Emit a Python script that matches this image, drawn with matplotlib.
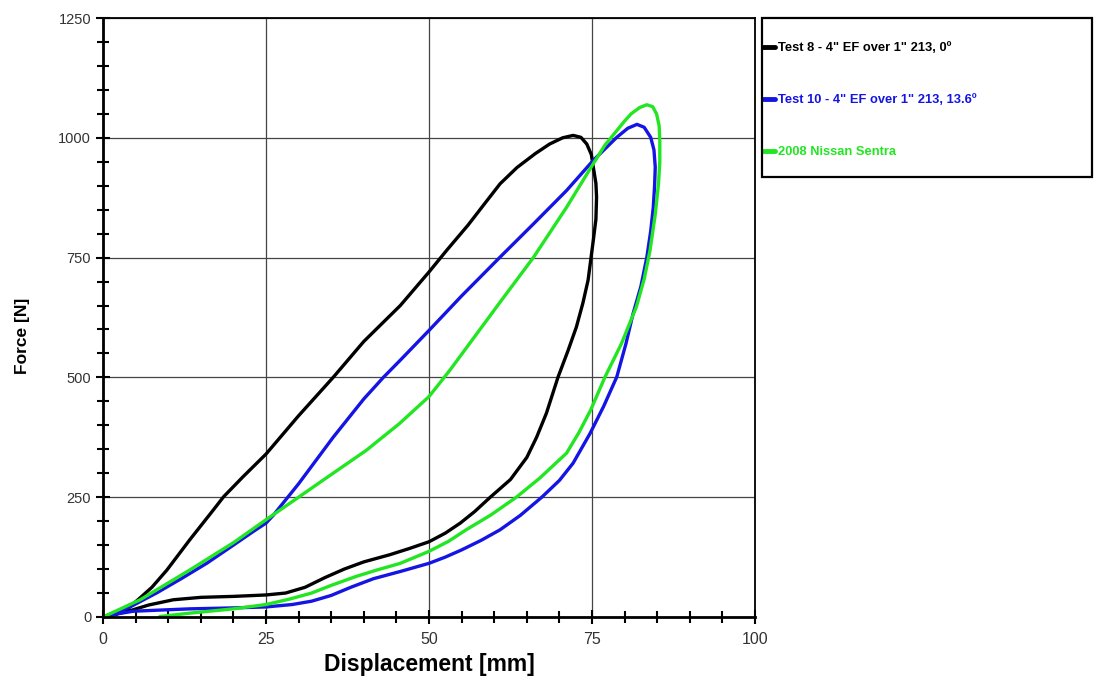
import matplotlib.pyplot as plt
from matplotlib.patches import Rectangle
from matplotlib.ticker import MultipleLocator

plt.rcParams['font.family'] = ['Liberation Sans', 'DejaVu Sans']

# Test 8 - loading branch up to peak, then unloading back to origin
test8_x = [0, 2, 4, 5.7, 7.5, 9.8, 13.3, 16.9, 18.5, 21.5, 25, 30, 35.3, 40, 45.6,
           50, 52.7, 56, 58.5, 60.9, 63.5, 66.3, 68.5, 70.5, 72.1, 73.3, 74.2,
           74.9, 75.2, 75.6, 75.7, 75.6, 75.2, 74.4, 73.6, 72.6, 71.3, 69.8, 68,
           66.5, 65, 62.5, 59.4, 57, 54.8, 52.5, 50, 47, 44, 40, 37, 34, 31, 28,
           25, 20, 15, 10.8, 7, 4.6, 2, 0]
test8_y = [0, 6, 20, 40, 62, 98, 161, 223, 251, 293, 340, 420, 500, 575, 650,
           720, 765, 818, 862, 904, 938, 967, 987, 1000, 1005, 1001, 987,
           965, 939, 905, 876, 830, 786, 703, 655, 605, 555, 501, 425,
           375, 333, 287, 250, 220, 196, 175, 157, 143, 130, 115, 100, 82, 62, 50,
           46, 43, 41, 36, 25, 15, 6, 0]

# Test 10
test10_x = [0, 4, 8.2, 12, 15.9, 20, 23, 25, 26.1, 30, 35.3, 40, 43, 45.6, 50, 55,
            60.9, 66, 71.1, 75.2, 78.8, 80.5, 81.9, 83, 84, 84.5, 84.7, 84.6, 84.4,
            84, 83.4, 82.5, 81.3, 80.2, 78.8, 76.8, 74.7, 72.1, 70, 67.3, 64, 60.9,
            58, 55, 52.5, 50, 45.6, 41.5, 38, 35, 32, 29, 25, 20, 13.3, 8, 4.6, 2, 0]
test10_y = [0, 20, 50, 80, 112, 150, 178, 196, 212, 278, 375, 455, 500, 536, 598, 670,
            751, 820, 890, 953, 1001, 1020, 1028, 1022, 1001, 975, 939, 900, 855,
            805, 750, 690, 633, 570, 501, 440, 383, 321, 285, 250, 212, 182,
            160, 140, 125, 112, 95, 80, 62, 45, 33, 26, 21, 19, 17, 14, 12, 6, 0]

# 2008 Nissan Sentra
sentra_x = [0, 5.7, 13.3, 20, 25, 30, 33.8, 37, 40.4, 45.5, 50, 53.2, 57, 60.9, 66,
            71.1, 75.2, 77, 78.8, 80, 81, 82.3, 83.4, 84.3, 84.9, 85.3, 85.4, 85.4,
            85.2, 84.7, 83.9, 83, 81.8, 79.5, 77, 74.8, 73, 71.1, 67, 63.4, 59.5,
            55.7, 53, 50, 45.6, 42, 38.9, 35, 32, 28.5, 25, 20, 13.3, 8.7]
sentra_y = [0, 36, 98, 155, 203, 250, 286, 316, 348, 404, 460, 515, 585, 657, 750,
            855, 946, 985, 1015, 1035, 1050, 1063, 1069, 1065, 1050, 1025, 994, 950,
            904, 840, 765, 705, 647, 570, 501, 432, 385, 342, 290, 250, 213,
            182, 158, 137, 112, 98, 85, 66, 50, 37, 26, 17, 8, 1]

series = [
    (test8_x, test8_y, 'black', 'Test 8 - 4" EF over 1" 213, 0º'),
    (test10_x, test10_y, '#1414e4', 'Test 10 - 4" EF over 1" 213, 13.6º'),
    (sentra_x, sentra_y, '#22e622', '2008 Nissan Sentra'),
]

fig = plt.figure(figsize=(10.94, 6.79), dpi=100)
ax = fig.add_axes([103 / 1094, 1 - 617 / 679, 652 / 1094, 599 / 679])

for xs, ys, col, lab in series:
    ax.plot(xs, ys, color=col, linewidth=2.4, label=lab,
            solid_capstyle='round', solid_joinstyle='round')

ax.set_xlim(0, 100)
ax.set_ylim(0, 1250)
ax.xaxis.set_major_locator(MultipleLocator(25))
ax.xaxis.set_minor_locator(MultipleLocator(5))
ax.yaxis.set_major_locator(MultipleLocator(250))
ax.yaxis.set_minor_locator(MultipleLocator(50))
ax.grid(True, which='major', color='#444444', linewidth=0.9)
ax.tick_params(which='major', direction='inout', length=10, width=1.5,
               labelsize=10.5, labelcolor='#333333')
ax.tick_params(axis='x', which='major', labelsize=11.5, pad=6)
ax.tick_params(which='minor', direction='inout', length=8, width=1.5)
for side in ['left', 'bottom']:
    ax.spines[side].set_linewidth(2)
for side in ['top', 'right']:
    ax.spines[side].set_linewidth(1.3)

ax.set_xlabel('Displacement [mm]', fontsize=16.5, fontweight='bold', labelpad=4)
ax.set_ylabel('Force [N]', fontsize=12.5, fontweight='bold')
ax.yaxis.set_label_coords(-0.112, 0.47)

# legend box outside the axes
fig.patches.append(Rectangle((762 / 1094, 1 - 177 / 679), 330 / 1094, 159 / 679,
                             transform=fig.transFigure, fill=False,
                             edgecolor='black', linewidth=1.6))
leg = ax.legend(loc='upper left', bbox_to_anchor=(763 / 1094, 1 - 42 / 679),
                bbox_transform=fig.transFigure, frameon=False, borderpad=0,
                borderaxespad=0, handlelength=0.9, handletextpad=0.3,
                labelspacing=3.1, labelcolor='linecolor',
                prop={'weight': 'bold', 'size': 9.3})
for line in leg.get_lines():
    line.set_linewidth(3.5)

fig.savefig('out.png', dpi=100)
